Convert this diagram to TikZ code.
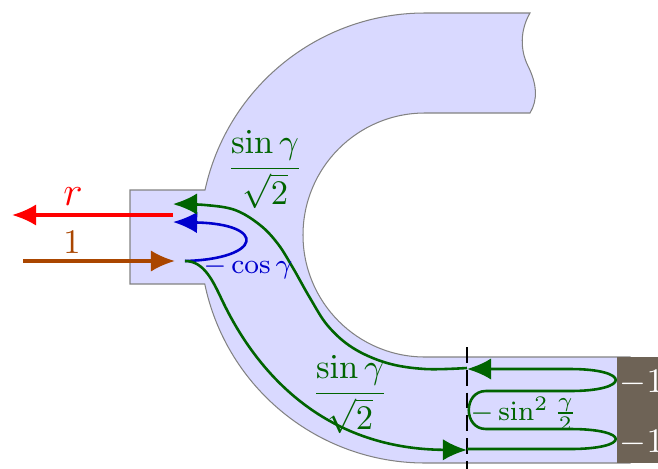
\documentclass[tikz,border=0pt]{standalone}
\usepackage{amsmath}
\usetikzlibrary{arrows.meta}
\definecolor{chan}{RGB}{217,217,255}
\definecolor{grn}{RGB}{0,100,0}
\definecolor{blu}{RGB}{0,0,205}
\definecolor{brn}{RGB}{170,70,0}
\definecolor{wallc}{RGB}{110,99,86}
\definecolor{edgec}{RGB}{130,130,130}
\tikzset{
  tip/.style={-{Latex[length=7pt,width=6.2pt]}},
  wave/.style={line width=0.75pt, grn, tip},
  lbl/.style={inner sep=0pt},
}
\begin{document}
\begin{tikzpicture}[x=0.29pt,y=-0.29pt]
\useasboundingbox (0,0) rectangle (658,468);
% channel
\fill[chan, draw=edgec, line width=0.3pt]
  (130,190) -- (205,190) arc[start angle=192.32, end angle=270, radius=225]
  -- (530,13) .. controls (520,30) and (520,50) .. (528,66)
  .. controls (537,84) and (538,100) .. (530,113)
  -- (425,113) arc[start angle=270, end angle=90, radius=122]
  -- (630,357) -- (630,463) -- (425,463)
  arc[start angle=90, end angle=168.2, radius=225]
  -- (130,284) -- cycle;
% wall
\fill[wallc] (617,357) rectangle (680,463);
% dashed reference line
\coordinate (dtop) at (467,347);
\coordinate (dbot) at (467,472);
\draw[line width=0.6pt, dash pattern=on 4.6pt off 2pt] (dtop) -- (dbot);
% coordinates
\coordinate (rs) at (173,215);
\coordinate (re) at (12,215);
\coordinate (is) at (23,261);
\coordinate (ie) at (175,261);
\coordinate (src) at (185,261);
\coordinate (bt) at (173,222);
\coordinate (gt) at (173,204);
\coordinate (lowtip) at (467,450);
\coordinate (uptip) at (467,369);
% incident and reflected
\draw[line width=0.9pt, red, tip] (rs) -- (re);
\draw[line width=0.9pt, brn, tip] (is) -- (ie);
% blue loop
\draw[line width=0.75pt, blu, tip] (src) .. controls (262,259) and (268,224) .. (bt);
% green lower
\draw[wave] (src) .. controls (204,261) and (213,281) .. (222,300)
  .. controls (260,380) and (330,449) .. (lowtip);
% loops at wall
\draw[wave] (467,449) -- (570,449) .. controls (631,449) and (631,429) .. (570,429)
  -- (486,429) .. controls (463,429) and (463,391) .. (486,391)
  -- (570,391) .. controls (631,391) and (631,369) .. (570,369) -- (uptip);
% green upper
\draw[wave] plot[smooth, tension=0.6] coordinates {(467,368) (425,369) (387,363) (353,348) (328,326) (310,298) (293,268) (278,244) (260,225) (235,210) (205,205) (gt)};
% labels
\node[text=red] (rlab) at (73,197) {\large$r$};
\node[text=brn] (ilab) at (72,242) {$1$};
\node[lbl, text=blu, anchor=base west] (coslab) at (203,273) {\footnotesize$-\cos\gamma$};
\node[lbl, text=grn, anchor=base] (f1) at (265,177) {$\dfrac{\sin\gamma}{\sqrt{2}}$};
\node[lbl, text=grn, anchor=base] (f2) at (350,402) {$\dfrac{\sin\gamma}{\sqrt{2}}$};
\node[lbl, text=grn, anchor=base west] (slab) at (470,420) {\footnotesize$-\sin^2\frac{\gamma}{2}$};
\node[lbl, text=white, anchor=base west] (m1) at (619,392) {$-1$};
\node[lbl, text=white, anchor=base west] (m2) at (619,452) {$-1$};
\end{tikzpicture}
\end{document}
